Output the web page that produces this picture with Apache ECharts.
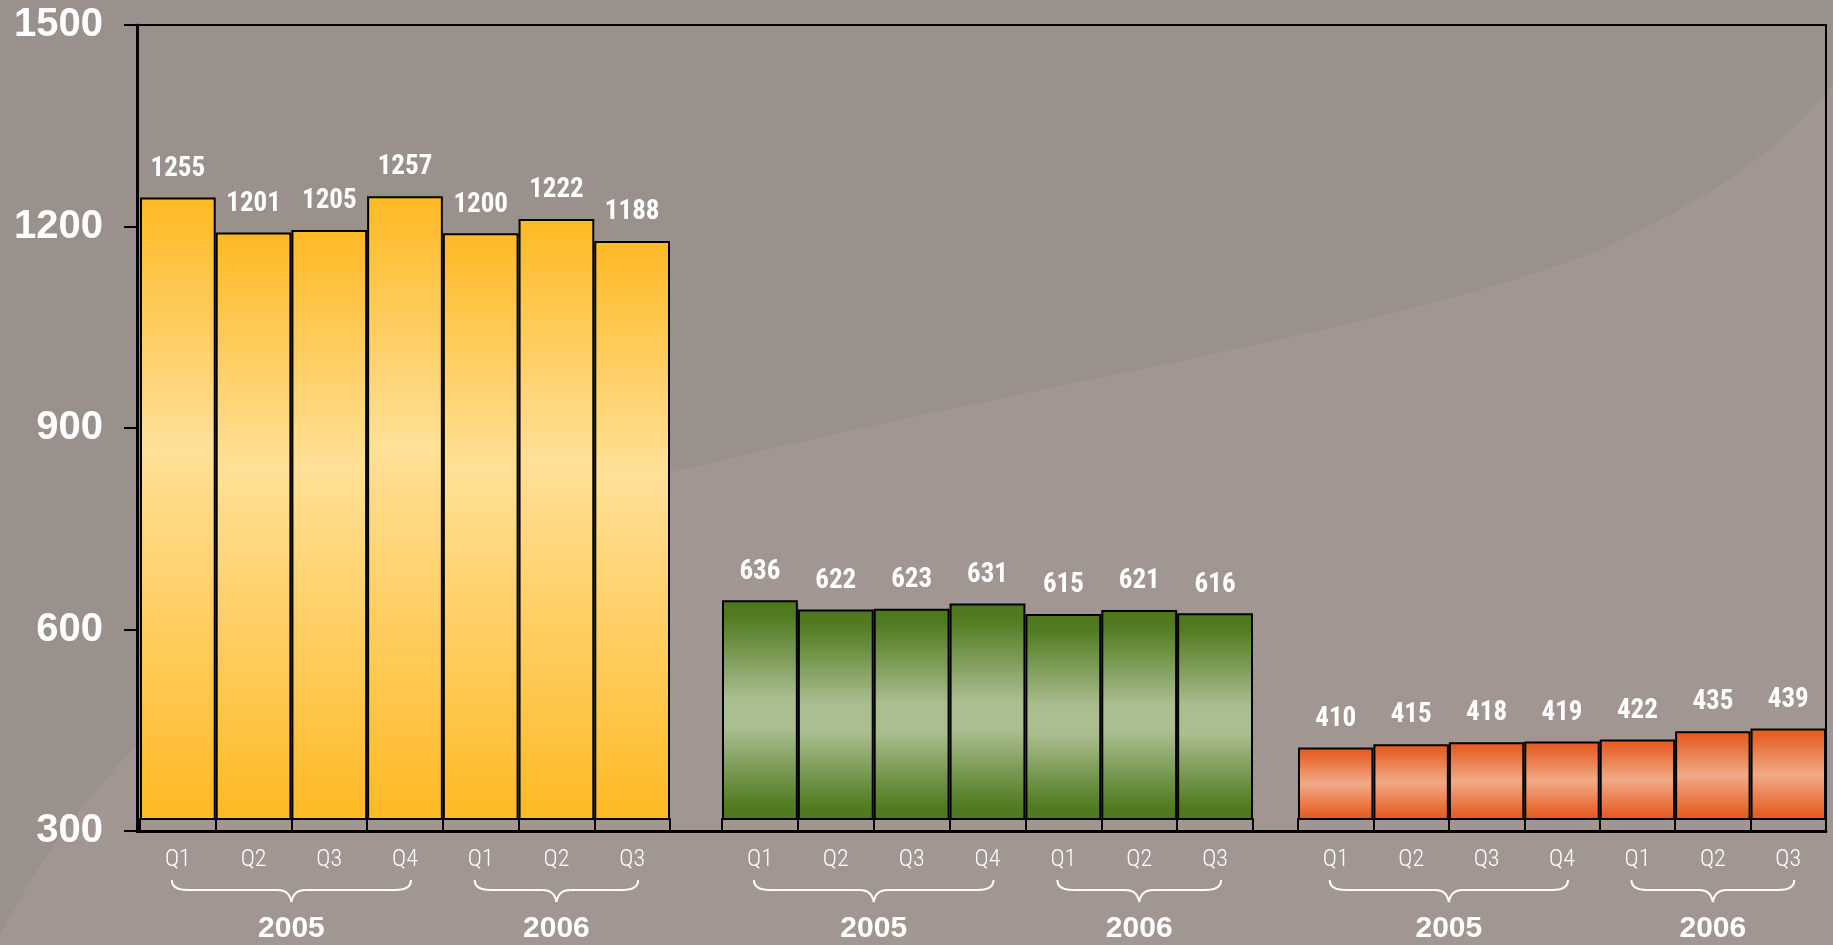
<!DOCTYPE html>
<html>
<head>
<meta charset="utf-8">
<title>Quarterly volumes 2005-2006</title>
<script src="https://cdn.jsdelivr.net/npm/echarts@6/dist/echarts.min.js"></script>
<style>
    html, body { margin: 0; padding: 0; background: #9a918c; }
    #Root { width: 1833px; height: 945px; }
</style>
</head>
<body>
<div id="Root"></div>
<script>
// categories (same for each of the three groups)
const quarters = ['Q1', 'Q2', 'Q3', 'Q4', 'Q1', 'Q2', 'Q3']
// year brackets: label, first quarter index, last quarter index
const years = [['2005', 0, 3], ['2006', 4, 6]]

// series values
const yellowValues = [1255, 1201, 1205, 1257, 1200, 1222, 1188]
const greenValues = [636, 622, 623, 631, 615, 621, 616]
const orangeValues = [410, 415, 418, 419, 422, 435, 439]

// value axis ticks
const yMin = 300
const yMax = 1500
const yStep = 300

const narrowFont = '"Liberation Sans Narrow", "Roboto Condensed", "Arial Narrow", "DejaVu Sans Condensed", sans-serif'
const wideFont = '"Liberation Sans", Arial, sans-serif'

function VerticalGradient(stops) {
    return {
        type: 'linear', x: 0, y: 0, x2: 0, y2: 1,
        colorStops: stops.map(s => ({ offset: s[0], color: s[1] }))
    }
}

function BarSeries(index, values, stops) {
    return {
        type: 'bar',
        xAxisIndex: index,
        yAxisIndex: index,
        data: values,
        barWidth: '100%',
        itemStyle: { color: VerticalGradient(stops), borderColor: '#000', borderWidth: 2 },
        label: {
            show: true, position: 'top', distance: 15,
            color: '#fff', fontSize: 27, fontWeight: 'bold', fontFamily: narrowFont
        },
        emphasis: { disabled: true }
    }
}

function GroupXAxis(index) {
    return {
        gridIndex: index,
        type: 'category',
        data: quarters,
        axisLine: { show: true, onZero: false, lineStyle: { color: '#000', width: 2 } },
        axisTick: { show: true, length: 11, lineStyle: { color: '#000', width: 2 } },
        axisLabel: { color: '#fff', fontSize: 24, fontWeight: 300, fontFamily: narrowFont, margin: 29 },
        splitLine: { show: false }
    }
}

function HiddenYAxis(index) {
    return { gridIndex: index, type: 'value', min: yMin, max: yMax, show: false }
}

let chart = echarts.init(document.getElementById('Root'), null, { renderer: 'canvas' })

chart.setOption({
    backgroundColor: '#9a918c',
    animation: false,
    grid: [
        // frame with the visible value axis
        { left: 137, right: 7, top: 25, bottom: 114, show: true, borderColor: '#000', borderWidth: 2, outerBoundsMode: 'none' },
        // one grid per group of bars
        { left: 140, right: 1163, top: 38, bottom: 126, outerBoundsMode: 'none' },
        { left: 722, right: 580, top: 38, bottom: 126, outerBoundsMode: 'none' },
        { left: 1298, right: 7, top: 38, bottom: 126, outerBoundsMode: 'none' }
    ],
    xAxis: [
        {
            gridIndex: 0, type: 'value', min: 0, max: 1,
            axisLine: { show: true, onZero: false, lineStyle: { color: '#000', width: 3 } },
            axisTick: { show: false }, axisLabel: { show: false }, splitLine: { show: false }
        },
        GroupXAxis(1),
        GroupXAxis(2),
        GroupXAxis(3)
    ],
    yAxis: [
        {
            gridIndex: 0, type: 'value', min: yMin, max: yMax, interval: yStep,
            axisLine: { show: true, onZero: false, lineStyle: { color: '#000', width: 3 } },
            axisTick: { show: true, length: 13, lineStyle: { color: '#000', width: 2 } },
            axisLabel: {
                color: '#fff', fontSize: 40, fontWeight: 'bold', fontFamily: wideFont, margin: 34,
                formatter: v => String(v)
            },
            splitLine: { show: false }
        },
        HiddenYAxis(1),
        HiddenYAxis(2),
        HiddenYAxis(3)
    ],
    series: [
        BarSeries(1, yellowValues, [[0, '#feb924'], [0.4, '#ffe097'], [1, '#feb924']]),
        BarSeries(2, greenValues, [[0, '#4d771b'], [0.08, '#537c22'], [0.45, '#aabe90'], [0.58, '#aabe90'], [0.93, '#537c22'], [1, '#4d771b']]),
        BarSeries(3, orangeValues, [[0, '#e45a20'], [0.1, '#e6652c'], [0.5, '#f1aa88'], [0.9, '#e6652c'], [1, '#e45a20']])
    ]
})

// lighter swoosh in the background
function CubicPoints(p0, p1, p2, p3, steps) {
    let pts = []
    for (let i = 0; i <= steps; i++) {
        const t = i / steps, u = 1 - t
        pts.push([
            u * u * u * p0[0] + 3 * u * u * t * p1[0] + 3 * u * t * t * p2[0] + t * t * t * p3[0],
            u * u * u * p0[1] + 3 * u * u * t * p1[1] + 3 * u * t * t * p2[1] + t * t * t * p3[1]
        ])
    }
    return pts
}

let swooshPoints = []
    .concat(CubicPoints([0, 935], [110, 720], [330, 540], [700, 466], 40))
    .concat(CubicPoints([700, 466], [1000, 390], [1400, 330], [1600, 250], 40))
    .concat(CubicPoints([1600, 250], [1720, 195], [1790, 140], [1833, 85], 30))
swooshPoints.push([1833, 945], [0, 945])

let decorations = [{
    type: 'polygon', z: -10, silent: true,
    shape: { points: swooshPoints },
    style: { fill: '#a29692' }
}]

// year brackets under each group
function Brace(x1, x2, yTop, yLine, yTip) {
    const xc = (x1 + x2) / 2
    const st = { stroke: '#fff', lineWidth: 2, fill: null }
    return [
        { type: 'bezierCurve', silent: true, shape: { x1: x1, y1: yTop, cpx1: x1, cpy1: yLine, x2: x1 + 16, y2: yLine }, style: st },
        { type: 'line', silent: true, shape: { x1: x1 + 16, y1: yLine, x2: xc - 14, y2: yLine }, style: st },
        { type: 'bezierCurve', silent: true, shape: { x1: xc - 14, y1: yLine, cpx1: xc - 2, cpy1: yLine, x2: xc, y2: yTip }, style: st },
        { type: 'bezierCurve', silent: true, shape: { x1: xc, y1: yTip, cpx1: xc + 2, cpy1: yLine, x2: xc + 14, y2: yLine }, style: st },
        { type: 'line', silent: true, shape: { x1: xc + 14, y1: yLine, x2: x2 - 16, y2: yLine }, style: st },
        { type: 'bezierCurve', silent: true, shape: { x1: x2 - 16, y1: yLine, cpx1: x2, cpy1: yLine, x2: x2, y2: yTop }, style: st }
    ]
}

for (let g = 1; g <= 3; g++) {
    const baseY = chart.convertToPixel({ gridIndex: g }, [0, yMin])[1]
    years.forEach(([label, from, to]) => {
        const xFirst = chart.convertToPixel({ gridIndex: g }, [from, yMin])[0]
        const xLast = chart.convertToPixel({ gridIndex: g }, [to, yMin])[0]
        decorations = decorations.concat(Brace(xFirst - 6, xLast + 6, baseY + 61, baseY + 71, baseY + 83))
        decorations.push({
            type: 'text', silent: true,
            x: (xFirst + xLast) / 2, y: baseY + 110,
            style: {
                text: label, fill: '#fff', font: 'bold 30px ' + wideFont,
                align: 'center', verticalAlign: 'middle', textAlign: 'center', textVerticalAlign: 'middle'
            }
        })
    })
}

chart.setOption({ graphic: { elements: decorations } })
</script>
</body>
</html>
